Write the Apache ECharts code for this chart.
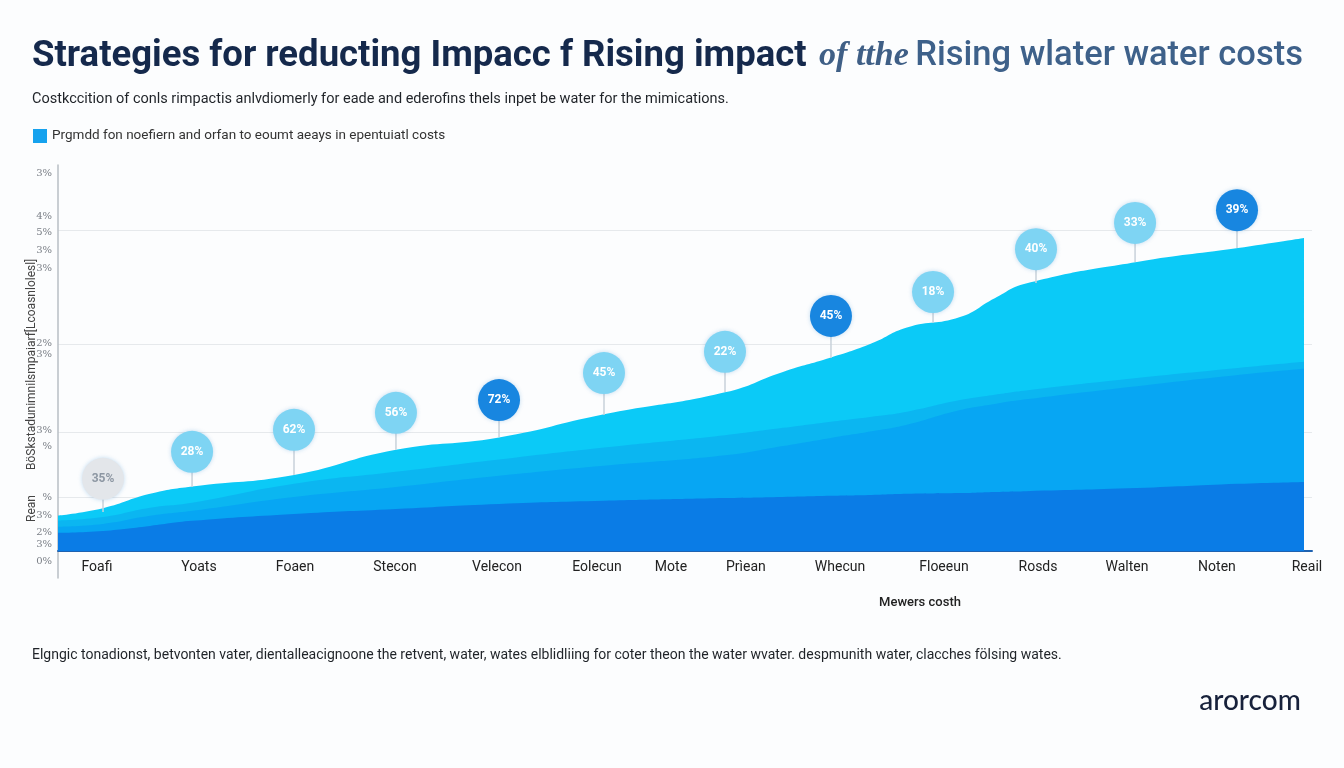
<!DOCTYPE html>
<html>
<head>
<meta charset="utf-8">
<script src="https://cdn.jsdelivr.net/npm/echarts@6/dist/echarts.min.js"></script>
<style>
html,body{margin:0;padding:0;background:#fcfdfe;}
#chart{width:1344px;height:768px;}
</style>
</head>
<body>
<div id="chart"></div>
<script>
// ---- data ----
var sampleX   = [0, 3.59, 7.34, 10.69, 18.82, 26.95, 35.17, 43.54, 53.19, 57.81, 61.64, 64.9, 67.70, 71.93, 74.7, 77.19, 86.04, 94.10, 99.36];
var baseLayer = [4.7, 5.2, 6.5, 7.8, 9.6, 10.9, 12.2, 13.0, 13.7, 14.0, 14.3, 14.5, 14.8, 15.0, 15.3, 15.5, 16.3, 17.4, 17.9];
var midLayer  = [1.6, 1.8, 2.6, 2.6, 4.4, 5.7, 7.3, 9.1, 11.1, 13.2, 15.0, 16.5, 17.9, 21.5, 22.8, 23.8, 26.4, 28.2, 29.3];
var paleLayer = [1.6, 1.8, 2.1, 2.1, 3.4, 3.9, 4.2, 4.7, 5.2, 4.7, 4.2, 3.8, 3.4, 2.6, 2.4, 2.3, 2.1, 1.8, 1.8];
var topLayer  = [1.3, 2.3, 3.6, 4.2, 2.3, 5.7, 5.7, 8.6, 11.1, 14.5, 16.6, 19.0, 21.8, 21.5, 25.0, 27.7, 30.1, 31.1, 32.1];

var bubbleX      = [3.59, 10.69, 18.82, 26.95, 35.17, 43.54, 53.19, 61.64, 69.78, 77.99, 85.89, 94.02];
var bubbleY      = [18.7, 25.7, 31.4, 35.8, 39.1, 46.1, 51.6, 60.9, 67.1, 78.2, 85.0, 88.3];
var stemEnd      = [10.1, 16.6, 19.7, 26.2, 29.5, 35.2, 41.2, 50.0, 59.1, 69.4, 74.9, 78.5];
var bubbleLabels = ['35%', '28%', '62%', '56%', '72%', '45%', '22%', '45%', '18%', '40%', '33%', '39%'];
var bubbleTone   = ['grey', 'light', 'light', 'light', 'dark', 'light', 'light', 'dark', 'light', 'light', 'light', 'dark'];

var categoryPos    = [3.11, 11.24, 18.90, 26.87, 35.01, 42.98, 48.88, 54.86, 62.36, 70.65, 78.15, 85.25, 92.42, 99.60];
var categoryLabels = ['Foafi', 'Yoats', 'Foaen', 'Stecon', 'Velecon', 'Eolecun', 'Mote', 'Prìean', 'Whecun', 'Floeeun', 'Rosds', 'Walten', 'Noten', 'Reail'];

var yTickValues = [97.9, 86.8, 82.6, 78.0, 73.3, 53.9, 50.8, 31.3, 27.2, 14.0, 9.3, 4.7, 1.6, -2.8];
var yTickLabels = ['3%', '4%', '5%', '3%', '3%', '2%', '3%', '3%', '%', '%', '3%', '2%', '3%', '0%'];
var gridLineValues = [83.2, 53.6, 30.8, 14.0];

var legendName = 'Prgmdd fon noefiern and orfan to eoumt aeays in epentuiatl costs';

// ---- build ----
var chart = echarts.init(document.getElementById('chart'));

function pairs(xs, ys) { return xs.map(function (x, i) { return [x, ys[i]]; }); }
function addArr(a, b) { return a.map(function (v, i) { return +(v + b[i]).toFixed(2); }); }

var cumBase = baseLayer.slice();
var cumMid  = addArr(cumBase, midLayer);
var cumPale = addArr(cumMid, paleLayer);
var cumTop  = addArr(cumPale, topLayer);

var toneStyle = {
  grey:  { fill: '#e3e6ea', text: '#8d97a3' },
  light: { fill: '#7ed4f3', text: '#ffffff' },
  dark:  { fill: '#1886e0', text: '#ffffff' }
};

var labelMap = {};
categoryPos.forEach(function (v, i) { labelMap[v] = categoryLabels[i]; });
var yLabelMap = {};
yTickValues.forEach(function (v, i) { yLabelMap[v] = yTickLabels[i]; });

function areaSeries(name, data, color) {
  return {
    name: name, type: 'line', data: pairs(sampleX, data),
    smooth: 0.5, symbol: 'none',
    lineStyle: { width: 0 }, areaStyle: { color: color, opacity: 1, origin: 0 },
    itemStyle: { color: color },
    z: 2, silent: true
  };
}

var bubbleData = bubbleX.map(function (x, i) {
  var t = toneStyle[bubbleTone[i]];
  return {
    value: [x, bubbleY[i]],
    itemStyle: { color: t.fill },
    label: { color: t.text, formatter: bubbleLabels[i] }
  };
});

var option = {
  backgroundColor: '#fcfdfe',
  animation: false,
  textStyle: { fontFamily: 'Roboto, "Liberation Sans", sans-serif' },
  title: {
    left: 27, top: 33,
    text: '{b|Strategies for reducting Impacc f Rising impact} {i|of tthe} {m|Rising wlater water costs}',
    textStyle: {
      rich: {
        b: { fontSize: 36.5, fontWeight: 'bold', color: '#15294c', fontFamily: 'Roboto' },
        i: { fontSize: 34, fontStyle: 'italic', color: '#3f5f86', fontFamily: '"Liberation Serif", serif', padding: [0, 2, 0, 8] },
        m: { fontSize: 34.5, fontWeight: 500, color: '#3e618a', fontFamily: 'Roboto' }
      }
    }
  },
  legend: {
    left: 28, top: 124, itemWidth: 14, itemHeight: 14,
    data: [{ name: legendName, icon: 'rect', itemStyle: { color: '#16a2ee' } }],
    textStyle: { fontSize: 13.5, color: '#333', fontFamily: 'Roboto' },
    selectedMode: false
  },
  grid: { left: 58, right: 1344 - 1312, top: 165, bottom: 768 - 578 },
  xAxis: {
    type: 'value', min: 0, max: 100,
    offset: -27,
    axisLine: { show: true, onZero: false, lineStyle: { color: '#1f62b0', width: 2 } },
    axisTick: { show: false },
    splitLine: { show: false },
    axisLabel: {
      customValues: categoryPos,
      formatter: function (v) { return labelMap[v] || ''; },
      color: '#222', fontSize: 14, margin: 9, fontFamily: 'Roboto'
    }
  },
  yAxis: {
    type: 'value', min: -7, max: 100,
    axisLine: { show: true, lineStyle: { color: '#b9bec4', width: 1.5 } },
    axisTick: { show: false, customValues: gridLineValues },
    splitLine: { show: true, lineStyle: { color: '#e6e9ec', width: 1.2 } },
    axisLabel: {
      customValues: yTickValues,
      formatter: function (v) { return yLabelMap[v] || ''; },
      color: '#7a7f86', fontSize: 10, margin: 6, fontFamily: '"DejaVu Serif", serif'
    }
  },
  series: [
    areaSeries(legendName, cumTop, '#0bcaf7'),
    areaSeries('pale', cumPale, '#0bb6f1'),
    areaSeries('mid', cumMid, '#07a6f3'),
    areaSeries('base', cumBase, '#0a7ce6'),
    {
      type: 'custom', z: 3, silent: true,
      data: bubbleX.map(function (x, i) { return [x, bubbleY[i], stemEnd[i]]; }),
      renderItem: function (params, api) {
        var p1 = api.coord([api.value(0), api.value(1)]);
        var p2 = api.coord([api.value(0), api.value(2)]);
        return { type: 'line', shape: { x1: p1[0], y1: p1[1], x2: p2[0], y2: p2[1] },
                 style: { stroke: '#c8d1da', lineWidth: 1.5 } };
      }
    },
    {
      type: 'scatter', z: 4, symbolSize: 42, data: bubbleData,
      itemStyle: { opacity: 1, shadowBlur: 4, shadowColor: 'rgba(20,120,200,0.25)' },
      label: { show: true, position: 'inside', fontSize: 12, fontWeight: 'bold', fontFamily: 'Roboto' }
    }
  ],
  graphic: [
    { type: 'text', left: 32, top: 92, style: { text: 'Costkccition of conls rimpactis anlvdiomerly for eade and ederofins thels inpet be water for the mimications.', fill: '#1f2328', font: '14.5px Roboto' } },
    { type: 'text', x: 32, y: 470, rotation: Math.PI / 2, style: { text: 'BöSkstadunimnilsmpaiarf[Lcoasnlolesl]', fill: '#444', font: '12px Roboto', align: 'left', verticalAlign: 'middle' } },
    { type: 'text', x: 32, y: 522, rotation: Math.PI / 2, style: { text: 'Rean', fill: '#444', font: '12px Roboto', align: 'left', verticalAlign: 'middle' } },
    { type: 'text', x: 920, y: 603, style: { text: 'Mewers costh', fill: '#222', font: '500 13px Roboto', align: 'center', verticalAlign: 'middle' } },
    { type: 'text', left: 32, top: 648, style: { text: 'Elgngic tonadionst, betvonten vater, dientalleacignoone the retvent, water, wates elblidliing for coter theon the water wvater. despmunith water, clacches fölsing wates.', fill: '#1f2328', font: '14px Roboto' } },
    { type: 'text', x: 1250, y: 701, style: { text: 'arorcom', fill: '#17213b', font: '500 28px Lato', align: 'center', verticalAlign: 'middle' } }
  ]
};
chart.setOption(option);
</script>
</body>
</html>
